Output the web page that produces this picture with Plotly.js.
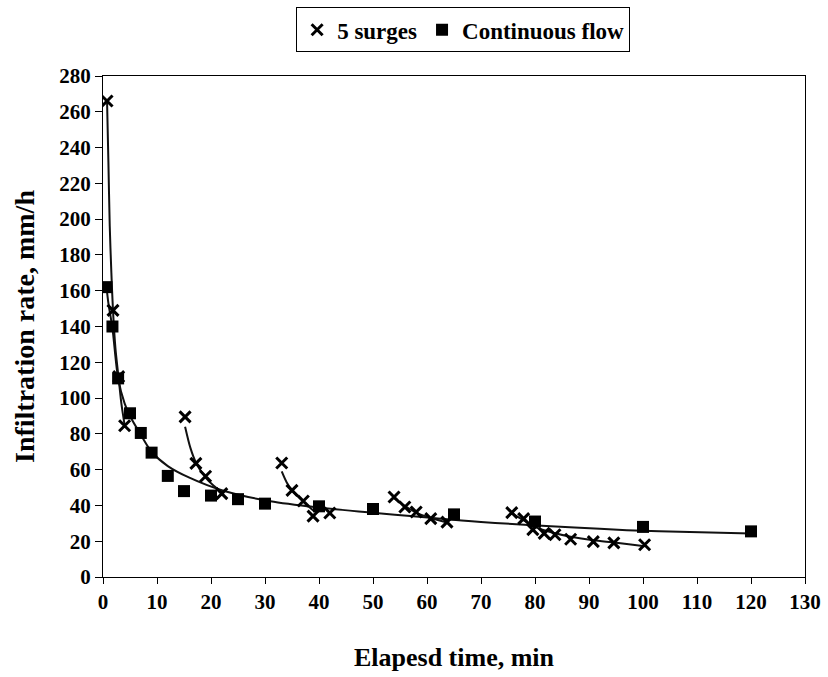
<!DOCTYPE html>
<html>
<head>
<meta charset="utf-8">
<script src="https://cdn.plot.ly/plotly-3.0.1.min.js"></script>
<style>html,body{margin:0;padding:0;background:#fff;}#chart{width:828px;height:677px;}</style>
</head>
<body>
<div id="chart"></div>
<script>
// Continuous flow (squares)
const flowTime = [0.65, 1.75, 2.8, 5, 7, 9, 12, 15, 20, 25, 30, 40, 50, 65, 80, 100, 120];
const flowRate = [162, 140, 111, 91.5, 80.5, 69.5, 56.5, 48, 45.5, 43.5, 41, 39.5, 38, 35, 31, 28, 25.5];

// Continuous flow trendline
const flowTrendTime = [0.65, 1.0, 1.75, 2.8, 4, 5, 7, 9, 12, 16, 22, 31, 40, 51, 70, 92, 103, 120];
const flowTrendRate = [162, 153, 139, 111, 97, 90, 79.5, 70, 62, 55.5, 48.5, 42.3, 38.8, 35.6, 30.8, 26.9, 25.5, 24.3];

// 5 surges (x markers)
const surgeTime = [0.75, 1.85, 2.9, 4.0,
                   15.2, 17.2, 19.0, 22.0,
                   33.1, 35.0, 37.1, 38.9, 42.0,
                   53.9, 55.9, 58.0, 60.7, 63.7,
                   75.7, 77.9, 79.6, 81.7, 83.7, 86.6, 90.8, 94.6, 100.3];
const surgeRate = [266, 149, 112, 84.5,
                   89.5, 63.5, 56.3, 46.6,
                   63.7, 48.4, 42.5, 34, 35.8,
                   44.7, 39.1, 36.3, 32.6, 30.7,
                   36, 32.6, 26.5, 24.4, 23.6, 21.1, 19.8, 19.1, 18];

// Surge trendlines
const surge1TrendTime = [0.75, 1.0, 1.25, 1.55, 1.85, 2.3, 2.9, 3.4, 4.0];
const surge1TrendRate = [266, 232, 196, 170, 149, 128, 111, 97, 85];
const surge2TrendTime = [15.2, 16.2, 17.2, 19.0, 20.5, 22.0];
const surge2TrendRate = [84, 72, 64, 55.5, 51, 47.5];
const surge3TrendTime = [33.1, 34.0, 35.0, 37.1, 39.2];
const surge3TrendRate = [59, 53, 48.5, 42, 36.5];
const surge4TrendTime = [53.9, 56.0, 58.0, 60.7, 63.7];
const surge4TrendRate = [44, 39.5, 36, 33, 30.5];
const surge5TrendTime = [75.7, 78.0, 80.0, 83.0, 86.6, 90.8, 95.0, 100.3];
const surge5TrendRate = [35.5, 31.5, 28, 25, 22.5, 20.5, 19.2, 17.2];

const xTicks = [0, 10, 20, 30, 40, 50, 60, 70, 80, 90, 100, 110, 120, 130];
const yTicks = [0, 20, 40, 60, 80, 100, 120, 140, 160, 180, 200, 220, 240, 260, 280];

const FONT = 'Liberation Serif, Times New Roman, serif';
const trendLine = {color: '#111', width: 2, shape: 'spline', smoothing: 0.8};

function trend(x, y) {
  return {x: x, y: y, type: 'scatter', mode: 'lines', line: trendLine,
          showlegend: false, hoverinfo: 'skip'};
}

const data = [
  trend(flowTrendTime, flowTrendRate),
  trend(surge1TrendTime, surge1TrendRate),
  trend(surge2TrendTime, surge2TrendRate),
  trend(surge3TrendTime, surge3TrendRate),
  trend(surge4TrendTime, surge4TrendRate),
  trend(surge5TrendTime, surge5TrendRate),
  {x: surgeTime, y: surgeRate, type: 'scatter', mode: 'markers', name: '5 surges',
   marker: {symbol: 'x-thin-open', size: 11, color: '#000', line: {color: '#000', width: 3}}},
  {x: flowTime, y: flowRate, type: 'scatter', mode: 'markers', name: 'Continuous flow',
   marker: {symbol: 'square', size: 12, color: '#000', line: {width: 0}}}
];

const layout = {
  width: 828, height: 677,
  margin: {l: 103, r: 23, t: 76, b: 100, autoexpand: false},
  paper_bgcolor: '#fff', plot_bgcolor: '#fff',
  font: {family: FONT, color: '#000', size: 20},
  showlegend: true,
  legend: {orientation: 'h', x: 0.513, xanchor: 'center', y: 1.137, yanchor: 'top',
           bordercolor: '#000', borderwidth: 1, bgcolor: '#fff',
           font: {family: FONT, size: 23, weight: 700, color: '#000'},
           itemwidth: 30, tracegroupgap: 0},
  xaxis: {
    range: [0, 130], tickmode: 'array', tickvals: xTicks, ticktext: xTicks.map(String),
    showgrid: false, zeroline: false, automargin: false,
    showline: true, linecolor: '#000', linewidth: 1, mirror: true,
    ticks: 'outside', ticklen: 6, tickcolor: '#000', tickwidth: 1,
    tickfont: {family: FONT, size: 21, weight: 700, color: '#000'},
    title: {text: 'Elapesd time, min', standoff: 34,
            font: {family: FONT, size: 26, weight: 700, color: '#000'}}
  },
  yaxis: {
    range: [0, 280], tickmode: 'array', tickvals: yTicks, ticktext: yTicks.map(String),
    showgrid: false, zeroline: false, automargin: false,
    showline: true, linecolor: '#000', linewidth: 1, mirror: true,
    ticks: 'outside', ticklen: 7, tickcolor: '#000', tickwidth: 1,
    tickfont: {family: FONT, size: 21, weight: 700, color: '#000'},
    title: {text: 'Infiltration rate, mm/h', standoff: 16,
            font: {family: FONT, size: 28, weight: 700, color: '#000'}}
  }
};

Plotly.newPlot('chart', data, layout, {displayModeBar: false, staticPlot: true});
</script>
</body>
</html>
